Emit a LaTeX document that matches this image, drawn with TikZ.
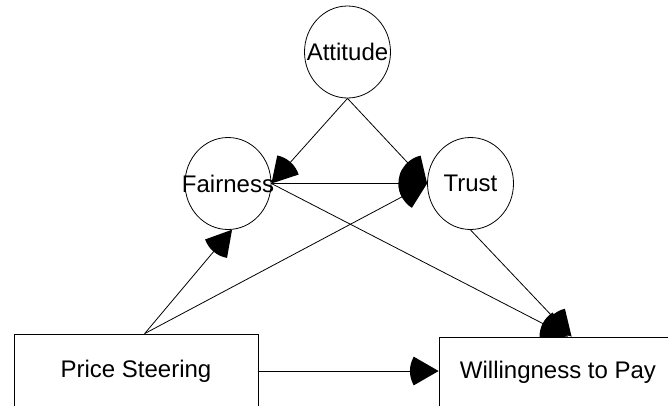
\documentclass[tikz,border=0pt]{standalone}
\usepackage{fontspec}
\setmainfont{Liberation Sans}
\usetikzlibrary{arrows.meta,shapes.geometric}

% wedge shaped arrow tip with a round back
\pgfdeclarearrow{
  name = Fan,
  parameters = {\the\pgfarrowlength},
  setup code = {
    \pgfarrowssettipend{0pt}
    \pgfarrowssetbackend{-\pgfarrowlength}
    \pgfarrowssetlineend{-0.5\pgfarrowlength}
    \pgfarrowssavethe\pgfarrowlength
  },
  drawing code = {
    \pgfpathmoveto{\pgfpointorigin}
    \pgfpathlineto{\pgfpointpolar{150}{\pgfarrowlength}}
    \pgfpatharc{150}{210}{\pgfarrowlength}
    \pgfpathclose
    \pgfusepathqfill
  },
  defaults = {length = 21.5pt}
}

% label that may stick out of its ellipse
\newcommand{\latentlabel}[1]{\makebox[0pt]{#1}}

\tikzset{
  latent/.style={ellipse, draw, line width=0.6pt, minimum width=64.5pt,
    minimum height=69pt, inner sep=0pt, font=\fontsize{18}{21}\selectfont},
  observed/.style={rectangle, draw, line width=0.6pt, inner sep=0pt,
    font=\fontsize{18}{21}\selectfont},
  link/.style={-Fan, line width=0.6pt}
}

\begin{document}
\begin{tikzpicture}[x=0.75pt, y=-0.75pt]
  \useasboundingbox (0,0) rectangle (668,405);
  \clip (0,0) rectangle (668,405);

  % Latent constructs
  \node[latent] (att) at (347.5, 52) {\latentlabel{Attitude}};
  \node[latent] (fair) at (228, 183.5) {\latentlabel{Fairness}};
  \node[latent] (trust) at (470.5, 183.5) {\latentlabel{Trust}};

  % Observed variables
  \node[observed, minimum width=183pt, minimum height=55.5pt] (ps) at (136, 371) {Price Steering};
  \node[observed, minimum width=178.5pt, minimum height=52.5pt] (wtp) at (558, 372) {Willingness to Pay};

  % Paths
  \draw[link] (att.south) -- (fair.east);
  \draw[link] (att.south) -- (trust.west);
  \draw[link] (fair.east) -- (trust.west);
  \draw[link] (fair.east) -- (wtp.74);
  \draw[link] (trust.south) -- (wtp.69);
  \draw[link] (ps.77) -- (fair.-85);
  \draw[link] (ps.77) -- (trust.west);
  \draw[link] (ps.east) -- (ps.east -| wtp.west);
\end{tikzpicture}
\end{document}
